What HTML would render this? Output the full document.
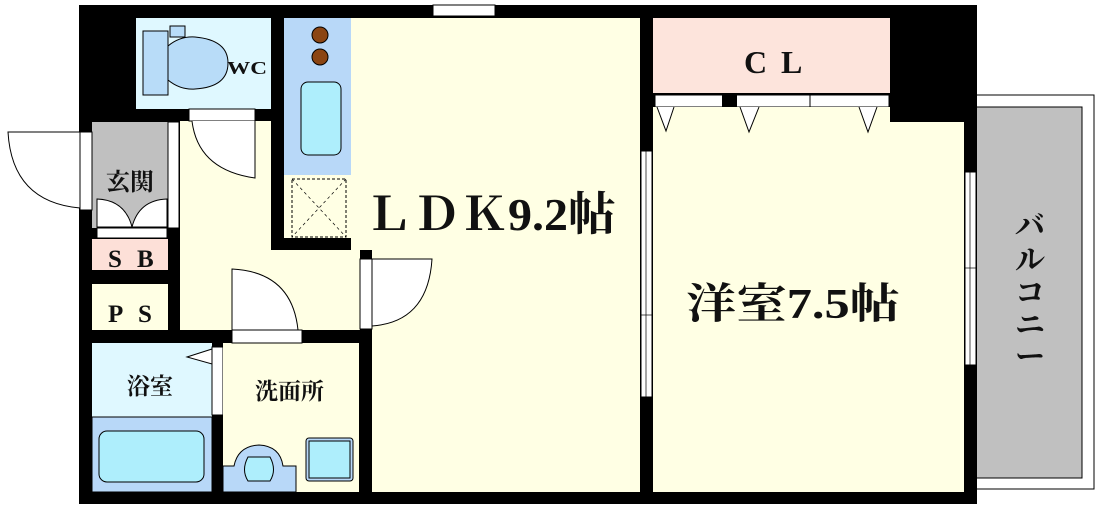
<!DOCTYPE html>
<html><head><meta charset="utf-8"><style>
html,body{margin:0;padding:0;background:#fff;width:1096px;height:514px;overflow:hidden}
svg{display:block}
text{font-family:"Liberation Serif","Noto Serif CJK JP","Noto Serif CJK SC",serif;font-weight:bold;fill:#111}
</style></head><body>
<svg width="1096" height="514" viewBox="0 0 1096 514" xmlns="http://www.w3.org/2000/svg">
<rect x="970" y="95" width="124" height="394" fill="#fff" stroke="#000" stroke-width="1"/>
<rect x="970" y="107" width="112" height="371" fill="#c0c0c0" stroke="#000" stroke-width="1"/>
<rect x="79" y="5" width="898" height="499" fill="#000"/>
<rect x="433" y="5" width="62" height="11" fill="#fff" stroke="#000" stroke-width="1"/>
<!-- WC -->
<rect x="136" y="18" width="135" height="91" fill="#dff8ff"/>
<rect x="143" y="31" width="25" height="64" fill="#b8dcf8" stroke="#000" stroke-width="1"/>
<rect x="170" y="26" width="15" height="11" fill="#b8dcf8" stroke="#000" stroke-width="1"/>
<path d="M168 46 Q180 36 195 37 Q228 40 228 63 Q228 87 195 89 Q180 90 168 80 Z" fill="#b8dcf8" stroke="#000" stroke-width="1"/>
<text x="227" y="74" font-size="18" textLength="40" lengthAdjust="spacingAndGlyphs">WC</text>
<!-- kitchen -->
<rect x="284" y="18" width="67" height="157" fill="#b8d8f8"/>
<circle cx="320" cy="35" r="8" fill="#8b4513" stroke="#000" stroke-width="1"/>
<circle cx="320" cy="57" r="8" fill="#8b4513" stroke="#000" stroke-width="1"/>
<rect x="301" y="82" width="40" height="73" rx="7" fill="#aeeefc" stroke="#000" stroke-width="1"/>
<!-- LDK -->
<rect x="351" y="18" width="289" height="232" fill="#ffffe4"/>
<rect x="372" y="250" width="268" height="242" fill="#ffffe4"/>
<rect x="284" y="175" width="67" height="63" fill="#ffffe4"/>
<rect x="292" y="179" width="54" height="58" fill="none" stroke="#000" stroke-width="1" stroke-dasharray="3,2"/>
<path d="M292 179 L346 237 M346 179 L292 237" stroke="#000" stroke-width="0.7" stroke-dasharray="3,3"/>
<!-- hallway -->
<rect x="180" y="121" width="91" height="209" fill="#ffffe4"/>
<rect x="180" y="250" width="180" height="80" fill="#ffffe4"/>
<rect x="189" y="109" width="66" height="12" fill="#fff" stroke="#000" stroke-width="1"/>
<path d="M192 121 Q198 170 255 178 L255 121" fill="#fff" stroke="#000" stroke-width="1"/>
<rect x="360" y="259" width="12" height="70" fill="#fff" stroke="#000" stroke-width="1"/>
<path d="M372 259 L432 259 Q428 322 372 326 Z" fill="#fff" stroke="#000" stroke-width="1"/>
<!-- genkan -->
<rect x="92" y="122" width="76" height="106" fill="#c0c0c0"/>
<rect x="168" y="122" width="11" height="106" fill="#fff" stroke="#000" stroke-width="1"/>
<rect x="80" y="132" width="12" height="78" fill="#fff" stroke="#000" stroke-width="1"/>
<path d="M80 132 L8 132 Q12 202 80 208 Z" fill="#fff" stroke="#000" stroke-width="1"/>
<path d="M97 199 Q125 200 132 227 L97 227 Z" fill="#fff" stroke="#000" stroke-width="1"/>
<path d="M167 199 Q139 200 132 227 L167 227 Z" fill="#fff" stroke="#000" stroke-width="1"/>
<rect x="97" y="228" width="70" height="10" fill="#fff" stroke="#000" stroke-width="1"/>
<text x="106" y="190" font-size="24">玄関</text>
<!-- SB / PS -->
<rect x="92" y="239" width="76" height="31" fill="#fde0d8"/>
<text y="267" font-size="25"><tspan x="108">S</tspan><tspan x="137">B</tspan></text>
<rect x="92" y="284" width="76" height="46" fill="#ffffe4"/>
<text y="322" font-size="25"><tspan x="108">P</tspan><tspan x="138">S</tspan></text>
<!-- bath -->
<rect x="92" y="343" width="120" height="74" fill="#dff8ff"/>
<rect x="92" y="417" width="120" height="75" fill="#b8d8f8" stroke="#000" stroke-width="1"/>
<rect x="99" y="431" width="105" height="51" rx="8" fill="#aeeefc" stroke="#000" stroke-width="1"/>
<rect x="212" y="347" width="11" height="68" fill="#fff" stroke="#000" stroke-width="1"/>
<path d="M212 349 L187 357 L212 364 Z" fill="#fff" stroke="#000" stroke-width="1"/>
<text x="127" y="394" font-size="23">浴室</text>
<!-- washroom -->
<rect x="223" y="343" width="136" height="149" fill="#ffffe4"/>
<rect x="232" y="330" width="70" height="13" fill="#fff" stroke="#000" stroke-width="1"/>
<path d="M232 330 L232 269 Q292 272 298 330 Z" fill="#fff" stroke="#000" stroke-width="1"/>
<text x="255" y="399" font-size="23">洗面所</text>
<path d="M223 466 L234 466 Q238 446 259 445 Q280 446 283 466 L296 466 L296 492 L223 492 Z" fill="#b8d8f8" stroke="#000" stroke-width="1"/>
<path d="M248 457 L270 457 Q277 470 270 481 L248 481 Q241 470 248 457 Z" fill="#aeeefc" stroke="#000" stroke-width="1"/>
<rect x="306" y="438" width="47" height="43" rx="3" fill="#b8d8f8" stroke="#000" stroke-width="1"/>
<rect x="309" y="441" width="41" height="37" fill="#aeeefc" stroke="#000" stroke-width="1"/>
<text x="364" y="230" font-size="46" textLength="252" lengthAdjust="spacingAndGlyphs">ＬＤＫ9.2帖</text>
<!-- bedroom -->
<rect x="653" y="18" width="237" height="75" fill="#fde4dc"/>
<text y="73" font-size="32"><tspan x="744">C</tspan><tspan x="781">L</tspan></text>
<rect x="655" y="95" width="234" height="12" fill="#fff" stroke="#000" stroke-width="1"/>
<rect x="722" y="95" width="15" height="12" fill="#000"/>
<line x1="810" y1="93" x2="810" y2="107" stroke="#000"/>
<rect x="653" y="107" width="237" height="385" fill="#ffffe4"/>
<rect x="890" y="122" width="74" height="370" fill="#ffffe4"/>
<path d="M657 107 L666 131 L674 107 M740 107 L749 132 L759 107 M859 107 L868 132 L877 107" fill="#fff" stroke="#000" stroke-width="1"/>
<rect x="641" y="151" width="11" height="246" fill="#fff" stroke="#000" stroke-width="1"/>
<line x1="646" y1="151" x2="646" y2="397" stroke="#000" stroke-width="0.7"/>
<line x1="641" y1="315" x2="652" y2="315" stroke="#000" stroke-width="0.7"/>
<rect x="965" y="172" width="11" height="193" fill="#fff" stroke="#000" stroke-width="1"/>
<line x1="970" y1="172" x2="970" y2="365" stroke="#000" stroke-width="0.7"/>
<line x1="965" y1="268" x2="976" y2="268" stroke="#000" stroke-width="0.7"/>
<text x="686" y="318" font-size="42" textLength="214" lengthAdjust="spacingAndGlyphs">洋室7.5帖</text>
<text font-size="30" text-anchor="middle"><tspan x="1030" y="236">バ</tspan><tspan x="1030" y="270">ル</tspan><tspan x="1030" y="303">コ</tspan><tspan x="1030" y="335">ニ</tspan><tspan x="1030" y="367">ー</tspan></text>
</svg>
</body></html>
